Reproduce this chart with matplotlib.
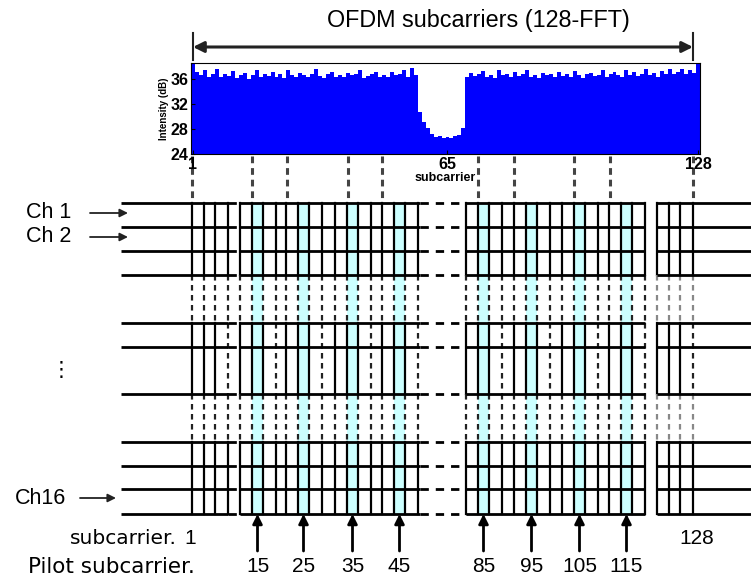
import matplotlib
matplotlib.use("Agg")
import matplotlib.pyplot as plt
import numpy as np

# spectrum of the 128 subcarriers (dB)
subcarrier = np.arange(1, 129)
intensity_db = [
    38.4, 37.2, 36.6, 37.5, 36.4, 36.8, 37.6, 36.3, 36.9, 36.5,
    37.3, 36.2, 36.7, 37.0, 36.1, 36.6, 37.4, 36.3, 36.8, 36.5,
    37.1, 36.4, 36.9, 36.2, 37.5, 36.6, 36.3, 37.0, 36.7, 36.4,
    36.9, 37.6, 36.5, 36.2, 36.8, 37.2, 36.4, 36.7, 36.3, 37.0,
    36.6, 36.9, 37.4, 36.2, 36.5, 36.8, 37.1, 36.4, 36.7, 36.3,
    37.2, 36.6, 36.9, 37.5, 36.4, 37.8,
    36.6, 30.7, 29.1, 28.2, 27.2, 26.8, 26.9, 26.6, 26.8, 26.6, 26.9, 27.0, 28.2, 36.4,
    37.0, 36.5, 36.8, 37.3, 36.4, 36.7, 36.2, 37.5, 36.6, 36.9,
    36.3, 37.1, 36.5, 36.8, 37.4, 36.4, 36.7, 36.2, 37.0, 36.6,
    36.9, 36.3, 37.2, 36.5, 36.8, 36.4, 37.3, 36.6, 36.2, 36.9,
    37.0, 36.5, 36.7, 37.4, 36.3, 36.8, 37.1, 36.6, 36.4, 37.5,
    36.7, 37.2, 36.5, 36.9, 37.6, 36.6, 37.0, 36.4, 37.3, 36.8,
    37.6, 36.9, 37.2, 37.7, 36.8, 37.4, 37.0, 38.4,
]
y_ticks = [24, 28, 32, 36]
x_ticks = [1, 65, 128]

pilots = [15, 25, 35, 45, 85, 95, 105, 115]
channel_labels = ["Ch 1", "Ch 2", "Ch16"]

# diagram layout (pixel space of the 751x580 figure)
group_x0 = [192, 240, 286, 335, 382, 466, 514, 562, 609, 657]
cell_off = [0, 12, 23, 36]
rows_y = [203, 227, 251, 275, 323, 347, 394, 442, 466, 489, 514]
guide_x = [192, 252, 287, 348, 382, 478, 514, 574, 610, 693]

fig = plt.figure(figsize=(7.51, 5.80), dpi=100)
ax = fig.add_axes([0, 0, 1, 1])
ax.set_xlim(0, 751)
ax.set_ylim(580, 0)
ax.axis("off")

font = "Liberation Sans"

# title + double arrow
ax.text(478, 21, "OFDM subcarriers (128-FFT)", ha="center", va="center",
        fontsize=16.8, family=font)
ax.annotate("", xy=(193, 47), xytext=(693, 47),
            arrowprops=dict(arrowstyle="<|-|>", lw=2.2, color="#222222",
                            mutation_scale=16, shrinkA=0, shrinkB=0))
ax.plot([193, 193], [33, 60], color="#222222", lw=1.5)
ax.plot([693, 693], [33, 60], color="#222222", lw=1.5)

# dashed guide lines from the spectrum to the grid
for gx in guide_x:
    ax.plot([gx, gx], [156, 203], color="#444444", lw=2.2,
            dashes=(2.2, 1.6), zorder=2)

# pilot columns (cyan)
for g in range(1, 9):
    x0 = group_x0[g] + cell_off[1]
    x1 = group_x0[g] + cell_off[2]
    ax.fill_between([x0, x1], 203, 514, color="#ccffff", lw=0, zorder=1)

# vertical cell lines
for g, x0 in enumerate(group_x0):
    for i, off in enumerate(cell_off):
        x = x0 + off
        last = i == len(cell_off) - 1
        for y0, y1 in [(203, 275), (442, 514)]:
            ax.plot([x, x], [y0, y1], color="k", lw=1.6, zorder=3)
        if last:
            ax.plot([x, x], [323, 394], color="#222222", lw=1.6,
                    dashes=(2.5, 2.0), zorder=3)
        else:
            ax.plot([x, x], [323, 394], color="k", lw=1.6, zorder=3)
        for y0, y1 in [(275, 323), (394, 442)]:
            c = "#888888" if g == 9 else "#222222"
            ax.plot([x, x], [y0, y1], color=c, lw=1.6,
                    dashes=(2.5, 2.0), zorder=3)

# horizontal channel lines
for y in rows_y:
    for xa, xb in [(121, 228), (240, 420), (466, 645), (657, 751)]:
        ax.plot([xa, xb], [y, y], color="k", lw=2.0, zorder=4,
                solid_capstyle="butt")
    for xa, xb in [(228, 240), (420, 466)]:
        ax.plot([xa, xb], [y, y], color="k", lw=2.0, zorder=4,
                dashes=(3, 2.5))

# channel labels
for lab, ty, ax0, ax1, tx in [(channel_labels[0], 213, 90, 128, 26),
                              (channel_labels[1], 237, 90, 128, 26),
                              (channel_labels[2], 498, 80, 116, 15)]:
    ax.text(tx, ty, lab, ha="left", va="center", fontsize=15.5, family=font)
    ax.annotate("", xy=(ax1, ty), xytext=(ax0, ty),
                arrowprops=dict(arrowstyle="-|>", lw=1.3, color="#222222",
                                mutation_scale=12, shrinkA=0, shrinkB=0))
ax.text(61, 370, "\u22ee", ha="center", va="center", fontsize=15, family="DejaVu Sans")

# pilot arrows and numbers
for g, p in enumerate(pilots, start=1):
    xc = group_x0[g] + (cell_off[1] + cell_off[2]) / 2
    ax.annotate("", xy=(xc, 514), xytext=(xc, 551),
                arrowprops=dict(arrowstyle="-|>", lw=2.0, color="k",
                                mutation_scale=14, shrinkA=0, shrinkB=0))
    ax.text(xc, 567, str(p), ha="center", va="center", fontsize=15, family=font)

ax.text(70, 538, "subcarrier.", ha="left", va="center", fontsize=14.5, family="DejaVu Sans")
ax.text(190, 538, "1", ha="center", va="center", fontsize=15, family=font)
ax.text(697, 538, "128", ha="center", va="center", fontsize=15, family=font)
ax.text(28, 567, "Pilot subcarrier.", ha="left", va="center", fontsize=15.5,
        family="DejaVu Sans")

# spectrum inset
sx = fig.add_axes([191 / 751, (580 - 154) / 580, 509 / 751, 91 / 580])
sx.bar(subcarrier, np.array(intensity_db) - 24, bottom=24, width=1.0,
       color="#0000ff", lw=0)
sx.set_xlim(0.5, 128.5)
sx.set_ylim(24, 38.6)
sx.set_yticks(y_ticks)
sx.set_xticks(x_ticks)
sx.tick_params(direction="in", length=3, labelsize=11.5, pad=2)
for t in sx.get_xticklabels() + sx.get_yticklabels():
    t.set_fontweight("bold")
    t.set_family(font)
sx.set_xlabel("subcarrier", fontsize=9, fontweight="bold", family=font, labelpad=0)
sx.set_ylabel("Intensity (dB)", fontsize=7, fontweight="bold", family=font, labelpad=1)

fig.savefig("out.png", dpi=100)
